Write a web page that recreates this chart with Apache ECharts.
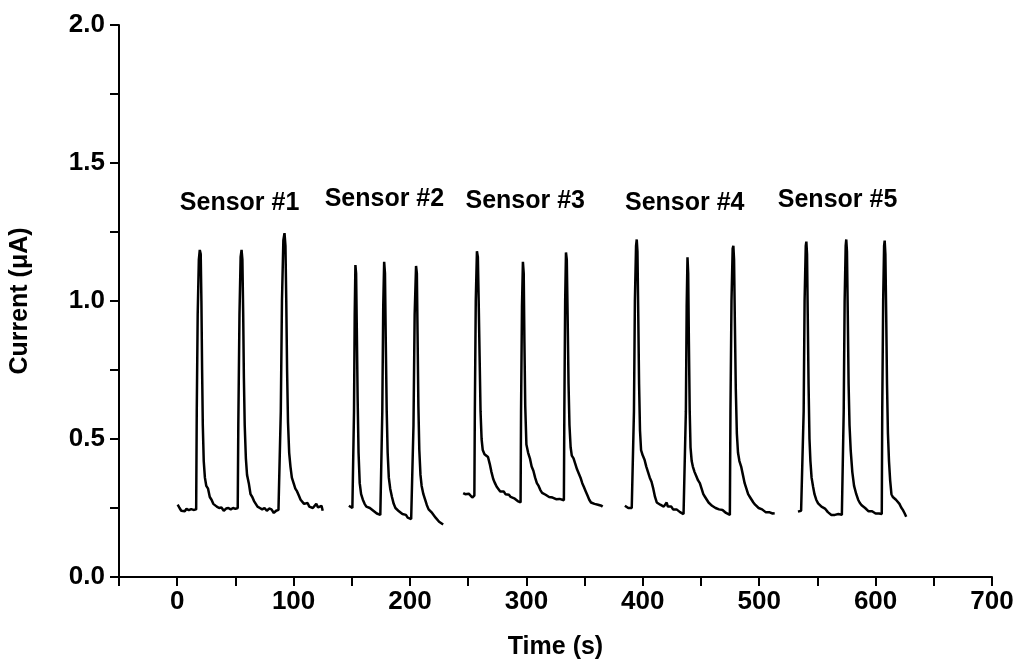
<!DOCTYPE html>
<html>
<head>
<meta charset="utf-8">
<script src="https://cdn.jsdelivr.net/npm/echarts@6/dist/echarts.min.js"></script>
<style>html,body{margin:0;padding:0;background:#fff}#c{width:1016px;height:669px}</style>
</head>
<body>
<div id="c"></div>
<script>
// Time (s) vs Current (uA)
var sensor1 = [[0.4,0.262],[2,0.25],[3.5,0.24],[5,0.245],[6.5,0.238],[8,0.247],[10,0.242],[12,0.246],[14,0.243],[16.3,0.245],
[16.8,0.6],[17.6,0.95],[18.6,1.15],[19.4,1.185],[20.2,1.17],[20.8,1.0],[21.4,0.75],[22,0.55],[22.8,0.42],[23.8,0.36],[25,0.33],[26.5,0.32],[28,0.29],[29.5,0.28],[31,0.265],[32.5,0.268],[34,0.255],[36,0.25],[38,0.252],[40,0.24],[42,0.248],[44,0.25],[46,0.245],[48,0.25],[50,0.247],[52,0.25],
[52.5,0.55],[53.5,0.95],[54.5,1.16],[55.3,1.185],[56,1.15],[56.7,0.95],[57.3,0.72],[58,0.55],[59,0.43],[60,0.37],[61.5,0.34],[63,0.3],[64.5,0.29],[66,0.275],[67.5,0.27],[69,0.255],[71,0.25],[73,0.245],[75,0.25],[77,0.24],[79,0.248],[81,0.245],[83,0.232],[85,0.24],[87,0.243],[88.6,0.245],
[89,0.6],[90,1.0],[91.2,1.22],[92.2,1.246],[93,1.2],[93.7,1.0],[94.4,0.75],[95.2,0.56],[96.2,0.45],[97.3,0.4],[98.5,0.36],[100,0.34],[101.5,0.32],[103,0.31],[104.5,0.295],[106,0.28],[107.5,0.275],[109,0.265],[110.5,0.26],[112,0.268],[113.5,0.255],[115,0.262],[116.5,0.25],[118,0.255],[119.5,0.265],[121,0.252],[122.5,0.248],[124,0.258],[125,0.24]];

var sensor2 = [[147.5,0.258],[149,0.255],[150.5,0.25],[151.5,0.25],
[151.9,0.6],[152.5,0.95],[153.1,1.13],[153.7,1.1],[154.3,0.9],[155,0.65],[155.8,0.45],[156.8,0.34],[158,0.3],[159.5,0.28],[161,0.265],[162.5,0.255],[164,0.26],[165.5,0.25],[167,0.245],[168.5,0.24],[170,0.237],[171.5,0.23],[173,0.232],[174.5,0.225],[175.7,0.228],
[176.2,0.6],[177,0.98],[177.8,1.142],[178.5,1.1],[179.2,0.85],[180,0.6],[180.8,0.45],[181.8,0.36],[183,0.32],[184.5,0.29],[186,0.265],[187.5,0.25],[189,0.245],[190.5,0.238],[192,0.24],[193.5,0.228],[195,0.222],[196.5,0.225],[198,0.215],[199.5,0.212],[201,0.21],[202.5,0.213],
[203,0.55],[204,0.95],[205.2,1.127],[205.9,1.1],[206.5,0.88],[207.2,0.62],[208,0.46],[209,0.37],[210,0.33],[211.5,0.3],[213,0.28],[214.5,0.26],[216,0.245],[217.5,0.24],[219,0.232],[220.5,0.225],[222,0.215],[223.5,0.21],[225,0.2],[226.5,0.197],[228.5,0.19]];

var sensor3 = [[245.7,0.304],[247.5,0.3],[249,0.298],[250.5,0.302],[252,0.295],[253.5,0.288],[255.3,0.295],
[255.7,0.6],[256.5,1.0],[257.5,1.18],[258.3,1.16],[259,1.0],[259.8,0.8],[260.6,0.6],[261.5,0.5],[262.5,0.46],[264,0.445],[265.5,0.44],[267,0.435],[268.5,0.41],[270,0.38],[271.5,0.355],[273,0.34],[274.5,0.327],[276,0.32],[277.5,0.31],[279,0.305],[280.5,0.31],[282,0.3],[283.5,0.295],[285,0.298],[286.5,0.29],[288,0.292],[289.5,0.285],[291,0.28],[292.5,0.275],[294,0.272],[295,0.27],
[295.4,0.6],[296.2,0.98],[297,1.142],[297.7,1.1],[298.3,0.85],[299,0.62],[300,0.48],[301.5,0.45],[303,0.43],[304.5,0.4],[306,0.385],[307.5,0.36],[309,0.34],[310.5,0.33],[312,0.315],[313.5,0.305],[315,0.3],[316.5,0.298],[318,0.292],[319.5,0.29],[321,0.286],[322.5,0.288],[324,0.285],[325.5,0.282],[327,0.28],[328.5,0.283],[330,0.28],[332.2,0.278],
[332.6,0.6],[333.3,1.0],[334,1.176],[334.7,1.15],[335.4,0.95],[336.2,0.7],[337,0.55],[338,0.47],[339,0.44],[340.5,0.43],[342,0.41],[343.5,0.39],[345,0.375],[346.5,0.36],[348,0.34],[349.5,0.325],[351,0.31],[352.5,0.295],[354,0.28],[355.5,0.27],[357,0.268],[358.5,0.265],[360,0.266],[361.5,0.262],[363,0.26],[364.5,0.258],[365.5,0.255]];

var sensor4 = [[384.6,0.258],[386,0.252],[387.5,0.25],[389,0.249],[390.5,0.25],[392,0.252],
[392.4,0.6],[393.2,1.0],[394.2,1.2],[394.8,1.223],[395.4,1.18],[396.1,0.95],[396.8,0.7],[397.6,0.53],[398.5,0.46],[400,0.44],[401.5,0.425],[403,0.4],[404.5,0.38],[406,0.36],[407.5,0.345],[409,0.32],[410.5,0.29],[412,0.27],[413.5,0.265],[415,0.262],[416.5,0.26],[418,0.255],[419.5,0.262],[420.5,0.27],[421.5,0.255],[423,0.25],[424.5,0.255],[426,0.245],[427.5,0.248],[429,0.245],[430.5,0.24],[432,0.235],[433.5,0.232],[435,0.228],[436.6,0.225],
[437,0.6],[437.7,0.98],[438.4,1.158],[439,1.1],[439.6,0.85],[440.3,0.6],[441,0.47],[442,0.42],[443,0.4],[444.5,0.38],[446,0.365],[447.5,0.35],[449,0.34],[450.5,0.32],[452,0.3],[453.5,0.29],[455,0.28],[456.5,0.27],[458,0.265],[459.5,0.258],[461,0.252],[462.5,0.25],[464,0.255],[465.5,0.245],[467,0.248],[468.5,0.243],[470,0.24],[471.5,0.232],[473,0.228],[474.8,0.225],
[475.3,0.6],[476.2,1.0],[477.2,1.19],[477.8,1.2],[478.4,1.15],[479.1,0.92],[479.9,0.68],[480.8,0.52],[481.8,0.45],[483,0.42],[484.5,0.4],[486,0.37],[487.5,0.34],[489,0.32],[490.5,0.3],[492,0.29],[493.5,0.28],[495,0.27],[496.5,0.262],[498,0.255],[499.5,0.25],[501,0.243],[502.5,0.245],[504,0.238],[505.5,0.235],[507,0.233],[508.5,0.235],[510,0.232],[511.5,0.23],[513.3,0.231]];

var sensor5 = [[533.3,0.237],[534.5,0.238],[536,0.24],[537.6,0.243],
[538.2,0.6],[539,1.0],[540,1.2],[540.5,1.215],[541.1,1.17],[541.7,0.95],[542.4,0.7],[543.2,0.5],[544,0.42],[545,0.36],[546.3,0.327],[547.5,0.3],[549,0.28],[550.6,0.267],[552,0.26],[553.5,0.255],[555,0.258],[556.5,0.248],[557.8,0.243],[559,0.235],[560.5,0.228],[562,0.225],[563.5,0.23],[565,0.225],[566.5,0.232],[568,0.228],[569.5,0.23],[571,0.225],[572.2,0.228],
[572.6,0.6],[573.4,1.0],[574.3,1.2],[574.8,1.223],[575.4,1.18],[576.1,0.95],[576.8,0.7],[577.6,0.55],[578.6,0.46],[580,0.38],[581.5,0.33],[583.4,0.3],[585,0.28],[586.5,0.268],[588,0.26],[589.5,0.255],[591,0.25],[592.5,0.245],[594,0.238],[595.5,0.236],[597,0.238],[598.5,0.232],[600,0.23],[601.5,0.235],[603,0.23],[605.3,0.228],
[605.7,0.6],[606.5,1.0],[607.3,1.2],[607.8,1.219],[608.4,1.17],[609.1,0.95],[609.8,0.7],[610.6,0.52],[611.5,0.42],[612.5,0.35],[613.6,0.3],[614.8,0.29],[616,0.285],[617.5,0.28],[619,0.278],[620.5,0.265],[622,0.252],[623.4,0.243],[624.8,0.232],[626.3,0.218]];

var sensorNames = ['Sensor #1','Sensor #2','Sensor #3','Sensor #4','Sensor #5'];
var labelAnchors = [[53.6,1.355],[178,1.37],[299,1.362],[436,1.355],[567.3,1.366]];

var xTicks = {min:-50, max:700, step:50, labelStep:100};
var yTicks = {min:0, max:2, step:0.25, labelStep:0.5};

var FONT = 'Liberation Sans';
var chart = echarts.init(document.getElementById('c'), null, {renderer:'canvas'});
var all = [sensor1,sensor2,sensor3,sensor4,sensor5];
var series = all.map(function(d,i){
  return {type:'line', name:sensorNames[i], data:d, showSymbol:false, symbol:'none',
    lineStyle:{color:'#000', width:2.5}, itemStyle:{color:'#000'}, animation:false, z:2};
});
series.push({
  type:'scatter', symbolSize:0, animation:false, silent:true, z:3,
  itemStyle:{color:'#000', opacity:1},
  data: labelAnchors.map(function(p,i){return {name:sensorNames[i], value:p};}),
  label:{show:true, position:'inside', formatter:'{b}', color:'#000', opacity:1, textBorderWidth:0,
    fontFamily:FONT, fontWeight:'bold', fontSize:25}
});
chart.setOption({
  backgroundColor:'#fff',
  animation:false,
  grid:{left:119, right:24, top:25, bottom:92, containLabel:false, outerBoundsMode:'none'},
  xAxis:{type:'value', min:xTicks.min, max:xTicks.max, interval:xTicks.step,
    name:'Time (s)', nameLocation:'middle', nameGap:58,
    nameTextStyle:{color:'#000', fontFamily:FONT, fontWeight:'bold', fontSize:25},
    axisLine:{show:true, onZero:false, lineStyle:{color:'#000', width:2}},
    axisTick:{show:true, inside:false, length:9, lineStyle:{color:'#000', width:2}},
    axisLabel:{color:'#000', fontFamily:FONT, fontWeight:'bold', fontSize:26, margin:12,
      formatter:function(v){return (v>=0 && Math.abs(v % xTicks.labelStep)<1e-9) ? String(v) : '';}},
    splitLine:{show:false}},
  yAxis:{type:'value', min:yTicks.min, max:yTicks.max, interval:yTicks.step,
    name:'Current (\u03bcA)', nameLocation:'middle', nameGap:86, nameRotate:90,
    nameTextStyle:{color:'#000', fontFamily:FONT, fontWeight:'bold', fontSize:25},
    axisLine:{show:true, onZero:false, lineStyle:{color:'#000', width:2}},
    axisTick:{show:true, inside:false, length:9, lineStyle:{color:'#000', width:2}},
    axisLabel:{color:'#000', fontFamily:FONT, fontWeight:'bold', fontSize:26, margin:14,
      formatter:function(v){var r=v/yTicks.labelStep; return Math.abs(r-Math.round(r))<1e-9 ? v.toFixed(1) : '';}},
    splitLine:{show:false}},
  series:series
});
</script>
</body>
</html>
